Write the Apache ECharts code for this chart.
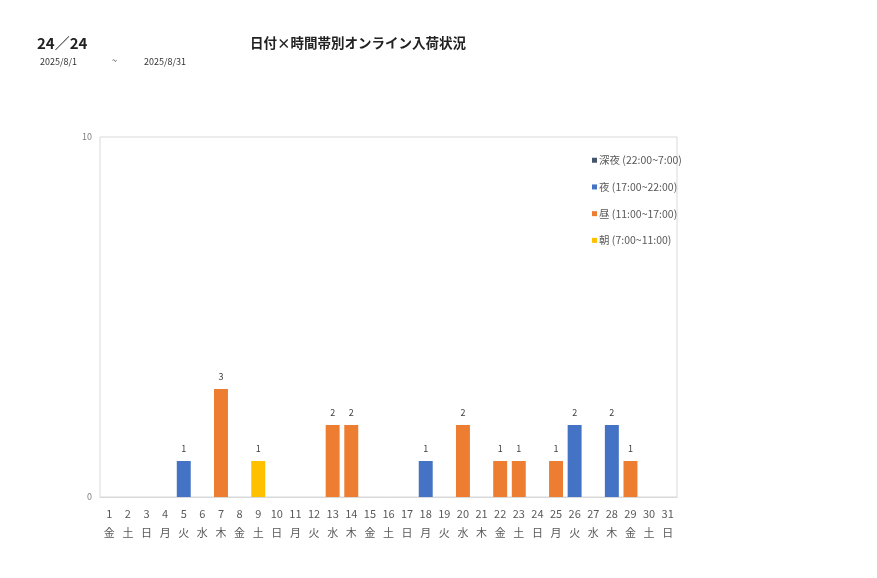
<!DOCTYPE html>
<html>
<head>
<meta charset="utf-8">
<script src="https://cdn.jsdelivr.net/npm/echarts@6/dist/echarts.min.js"></script>
<style>
html,body{margin:0;padding:0;background:#fff;}
#chart{width:877px;height:578px;}
</style>
</head>
<body>
<div id="chart"></div>
<script>
const days = ['1','2','3','4','5','6','7','8','9','10','11','12','13','14','15','16','17','18','19','20','21','22','23','24','25','26','27','28','29','30','31'];
const weekdays = ['金','土','日','月','火','水','木','金','土','日','月','火','水','木','金','土','日','月','火','水','木','金','土','日','月','火','水','木','金','土','日'];
const seriesNames = ['深夜 (22:00~7:00)','夜 (17:00~22:00)','昼 (11:00~17:00)','朝 (7:00~11:00)'];
const lateNight = [0,0,0,0,0,0,0,0,0,0,0,0,0,0,0,0,0,0,0,0,0,0,0,0,0,0,0,0,0,0,0];
const night     = [0,0,0,0,1,0,0,0,0,0,0,0,0,0,0,0,0,1,0,0,0,0,0,0,0,2,0,2,0,0,0];
const daytime   = [0,0,0,0,0,0,3,0,0,0,0,0,2,2,0,0,0,0,0,2,0,1,1,0,1,0,0,0,1,0,0];
const morning   = [0,0,0,0,0,0,0,0,1,0,0,0,0,0,0,0,0,0,0,0,0,0,0,0,0,0,0,0,0,0,0];
const yTicks = [0, 10];

const colors = ['#44546A','#4472C4','#ED7D31','#FFC000'];
const font = '"Noto Sans CJK JP", "Noto Sans", sans-serif';
const categories = days.map((d, i) => d + '\n' + weekdays[i]);

function mk(name, data, color) {
  return {
    name: name, type: 'bar', stack: 'total', data: data, barWidth: '75%',
    itemStyle: { color: color },
    label: {
      show: true, position: 'top', distance: 8, fontSize: 9, color: '#404040', fontFamily: font,
      formatter: p => p.value > 0 ? String(p.value) : ''
    }
  };
}

const chart = echarts.init(document.getElementById('chart'));
chart.setOption({
  animation: false,
  textStyle: { fontFamily: font },
  title: [
    { text: '24／24', left: 32, top: 31, textStyle: { fontSize: 15, fontWeight: 'bold', color: '#222', fontFamily: font } },
    { text: '日付×時間帯別オンライン入荷状況', left: 245, top: 31, textStyle: { fontSize: 13.5, fontWeight: 'bold', color: '#222', fontFamily: font } },
    { text: '2025/8/1', left: 35, top: 52, textStyle: { fontSize: 9, fontWeight: 'normal', color: '#333', fontFamily: font } },
    { text: '~', left: 107, top: 51, textStyle: { fontSize: 9, fontWeight: 'normal', color: '#333', fontFamily: font } },
    { text: '2025/8/31', left: 139, top: 52, textStyle: { fontSize: 9, fontWeight: 'normal', color: '#333', fontFamily: font } }
  ],
  legend: {
    data: seriesNames.slice(),
    orient: 'vertical',
    left: 587, top: 150,
    itemWidth: 5, itemHeight: 5, itemGap: 16.2,
    icon: 'rect',
    textStyle: { fontSize: 10.5, color: '#595959', fontFamily: font, padding: [0,0,0,-3] }
  },
  grid: {
    left: 100, right: 200, top: 137, bottom: 81,
    show: true, borderColor: '#d9d9d9', borderWidth: 1, containLabel: false
  },
  xAxis: {
    type: 'category', data: categories,
    axisLine: { lineStyle: { color: '#d9d9d9' } },
    axisTick: { show: false },
    axisLabel: { interval: 0, fontSize: 11, color: '#595959', lineHeight: 19, margin: 7, fontFamily: font }
  },
  yAxis: {
    type: 'value', min: yTicks[0], max: yTicks[1], interval: yTicks[1] - yTicks[0],
    splitLine: { show: false },
    axisLine: { show: false }, axisTick: { show: false },
    axisLabel: { fontSize: 9, color: '#7f7f7f', margin: 8, fontFamily: font }
  },
  series: [
    mk(seriesNames[3], morning, colors[3]),
    mk(seriesNames[2], daytime, colors[2]),
    mk(seriesNames[1], night, colors[1]),
    mk(seriesNames[0], lateNight, colors[0])
  ]
});
</script>
</body>
</html>
